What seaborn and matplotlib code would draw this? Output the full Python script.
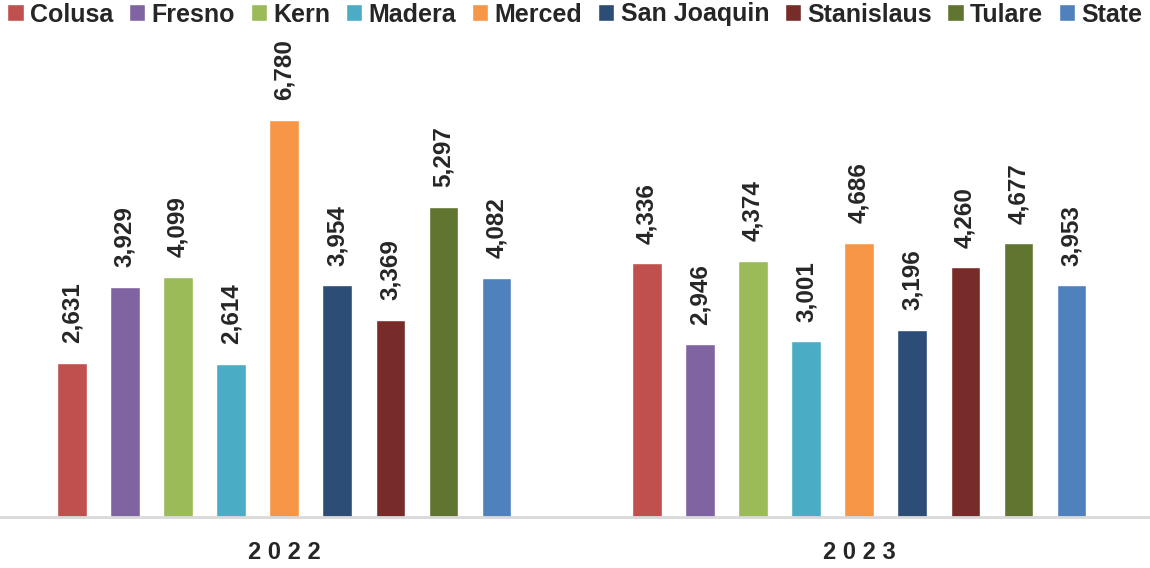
import matplotlib
matplotlib.use("Agg")
import matplotlib.pyplot as plt
import seaborn as sns
import pandas as pd

years = ["2022", "2023"]
counties = ["Colusa", "Fresno", "Kern", "Madera", "Merced",
            "San Joaquin", "Stanislaus", "Tulare", "State"]
values_2022 = [2631, 3929, 4099, 2614, 6780, 3954, 3369, 5297, 4082]
values_2023 = [4336, 2946, 4374, 3001, 4686, 3196, 4260, 4677, 3953]
colors = ["#C0504D", "#8064A2", "#9BBB59", "#4BACC6", "#F79646",
          "#2C4D75", "#772C2A", "#5F7530", "#4F81BD"]

rows = []
for year, vals in zip(years, [values_2022, values_2023]):
    for county, v in zip(counties, vals):
        rows.append({"year": year, "county": county, "value": v})
df = pd.DataFrame(rows)

sns.set_theme(style="white")
plt.rcParams["font.family"] = ["Liberation Sans", "DejaVu Sans"]

fig = plt.figure(figsize=(11.5, 5.68), dpi=100)
ax = fig.add_axes([0.0, 0.0898, 1.0, 0.825])

sns.barplot(data=df, x="year", y="value", hue="county", hue_order=counties,
            palette=colors, width=0.83, gap=0.45, saturation=1,
            errorbar=None, ax=ax, legend=True)

for cont in ax.containers:
    ax.bar_label(cont, labels=[f"{v:,.0f}" for v in cont.datavalues],
                 rotation=90, padding=14, fontsize=17.5, fontweight="bold")

ax.set_xlim(-0.494, 1.506)
ax.set_ylim(0, 8000)
ax.set_yticks([])
ax.set_xlabel("")
ax.set_ylabel("")
for s in ["top", "right", "left"]:
    ax.spines[s].set_visible(False)
ax.spines["bottom"].set_color("#D9D9D9")
ax.spines["bottom"].set_linewidth(2)
ax.tick_params(axis="x", length=0, pad=17)
ax.set_xticks([0, 1])
ax.set_xticklabels(["2 0 2 2", "2 0 2 3"], fontsize=17, fontweight="bold")

handles, labels = ax.get_legend_handles_labels()
ax.get_legend().remove()
fig.legend(handles, labels, loc="upper center", bbox_to_anchor=(0.5, 1.0),
           ncol=9, frameon=False, handlelength=0.65,
           handleheight=0.65, handletextpad=0.26, columnspacing=0.62,
           borderpad=0.0, borderaxespad=0.1, prop={"weight": "bold", "size": 18})

fig.savefig("out.png", dpi=100)
